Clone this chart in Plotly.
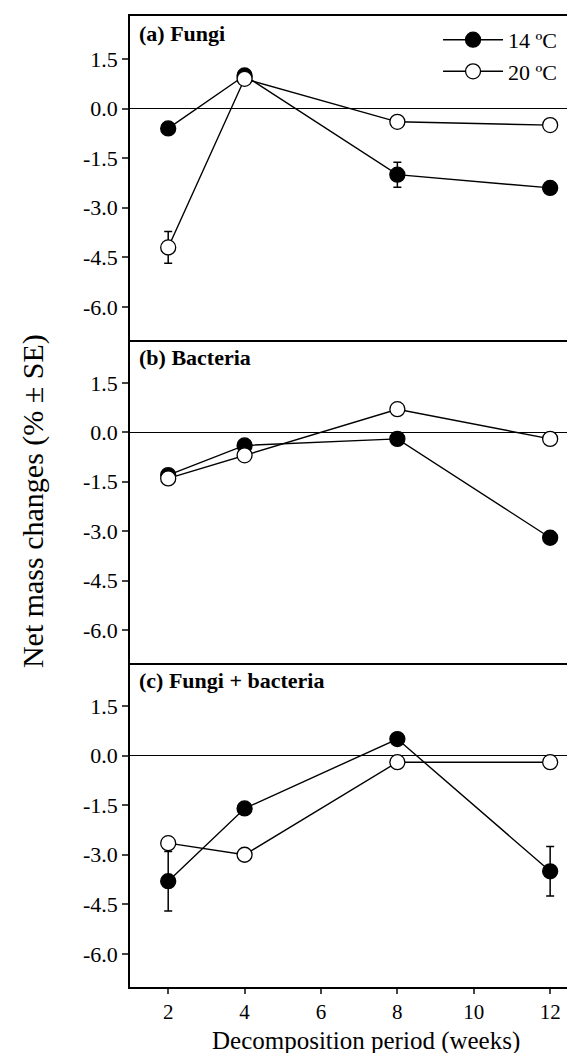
import plotly.graph_objects as go

weeks = [2, 4, 8, 12]

fungi_14 = [-0.6, 1.0, -2.0, -2.4]
fungi_14_se = [0, 0, 0.38, 0]
fungi_20 = [-4.2, 0.9, -0.4, -0.5]
fungi_20_se = [0.48, 0, 0, 0]

bact_14 = [-1.3, -0.4, -0.2, -3.2]
bact_14_se = [0, 0, 0, 0]
bact_20 = [-1.4, -0.7, 0.7, -0.2]
bact_20_se = [0, 0, 0, 0]

fb_14 = [-3.8, -1.6, 0.5, -3.5]
fb_14_se = [0.9, 0, 0, 0.75]
fb_20 = [-2.65, -3.0, -0.2, -0.2]
fb_20_se = [0, 0, 0, 0]

panel_labels = ["(a) Fungi", "(b) Bacteria", "(c) Fungi + bacteria"]
series_names = ["14 ºC", "20 ºC"]
ytick_vals = [-6.0, -4.5, -3.0, -1.5, 0.0, 1.5]
ytick_text = ["-6.0", "-4.5", "-3.0", "-1.5", "0.0", "1.5"]
xtick_vals = [2, 4, 6, 8, 10, 12]

panels = [
    (fungi_14, fungi_14_se, fungi_20, fungi_20_se),
    (bact_14, bact_14_se, bact_20, bact_20_se),
    (fb_14, fb_14_se, fb_20, fb_20_se),
]

FONT = "Liberation Serif"
W, H = 575, 1053
mt, mb, ml, mr = 8, 74, 122, 0
ph = H - mt - mb
bounds = [(8, 332), (332, 655), (655, 979)]

fig = go.Figure()
for i, (s14, e14, s20, e20) in enumerate(panels):
    ax = "" if i == 0 else str(i + 1)
    for vals, errs, fill, name in [(s14, e14, "black", series_names[0]),
                                   (s20, e20, "white", series_names[1])]:
        fig.add_trace(go.Scatter(
            x=weeks, y=vals, mode="lines+markers", name=name,
            xaxis="x" + ax, yaxis="y" + ax,
            showlegend=(i == 0),
            line=dict(color="black", width=1.4),
            marker=dict(size=15, color=fill, line=dict(color="black", width=1.3)),
            error_y=dict(type="data", array=errs, visible=True, color="black",
                         thickness=1.5, width=4),
        ))

layout = dict(
    width=W, height=H,
    margin=dict(l=ml, r=mr, t=mt, b=mb),
    paper_bgcolor="white", plot_bgcolor="white",
    font=dict(family=FONT, color="black"),
    showlegend=True,
    legend=dict(x=0.68, y=0.997, xanchor="left", yanchor="top",
                font=dict(family=FONT, size=22), bgcolor="rgba(0,0,0,0)",
                itemwidth=60, tracegroupgap=0),
)

annotations = []
for i in range(3):
    ax = "" if i == 0 else str(i + 1)
    top, bot = bounds[i]
    d0 = (H - mb - bot) / ph
    d1 = (H - mb - top) / ph
    last = (i == 2)
    layout["xaxis" + ax] = dict(
        domain=[0, 1], range=[1, 12.86], anchor="y" + ax,
        showline=True, linecolor="black", linewidth=1.5, mirror=(i == 0),
        ticks="outside" if last else "", ticklen=5, tickwidth=1.5,
        tickvals=xtick_vals, showticklabels=last,
        tickfont=dict(family=FONT, size=21),
        showgrid=False, zeroline=False,
    )
    layout["yaxis" + ax] = dict(
        domain=[d0, d1], range=[-7.0, 2.8], anchor="x" + ax,
        showline=True, linecolor="black", linewidth=1.5, mirror=False,
        ticks="outside", ticklen=6, tickwidth=1.5,
        tickvals=ytick_vals, ticktext=ytick_text,
        tickfont=dict(family=FONT, size=22),
        showgrid=False, zeroline=True, zerolinecolor="black", zerolinewidth=1.2,
    )
    annotations.append(dict(
        text="<b>" + panel_labels[i] + "</b>", xref="x" + ax + " domain",
        yref="y" + ax + " domain", x=0.015, y=0.99, xanchor="left", yanchor="top",
        showarrow=False, font=dict(family=FONT, size=22),
    ))

annotations.append(dict(
    text="Net mass changes (% ± SE)", xref="paper", yref="paper",
    x=-0.215, y=0.5, xanchor="center", yanchor="middle", textangle=-90,
    showarrow=False, font=dict(family=FONT, size=30),
))
annotations.append(dict(
    text="Decomposition period (weeks)", xref="paper", yref="paper",
    x=0.52, y=-(mb - 4) / ph, xanchor="center", yanchor="bottom",
    showarrow=False, font=dict(family=FONT, size=25),
))
layout["annotations"] = annotations
fig.update_layout(**layout)
fig.write_html("out.html")
